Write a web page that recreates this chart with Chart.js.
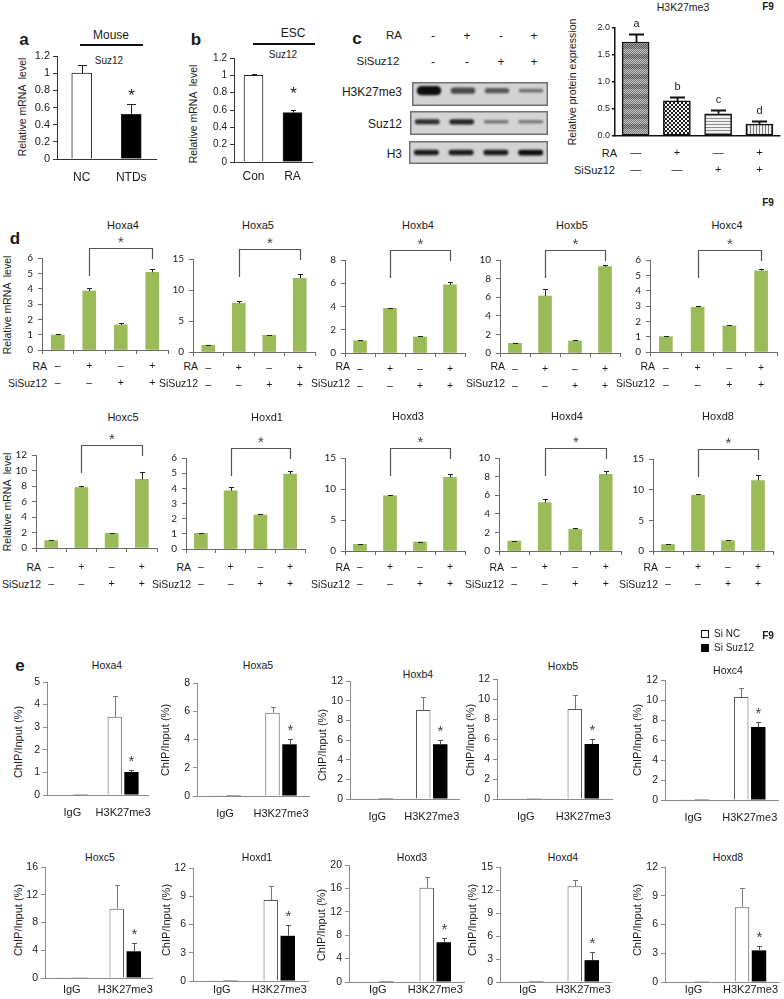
<!DOCTYPE html>
<html><head><meta charset="utf-8"><title>Suz12 / Hox figure</title>
<script src="https://cdn.jsdelivr.net/npm/chart.js@4.4.1/dist/chart.umd.min.js"></script>
<style>
html,body{margin:0;padding:0;background:#fff;}
body{width:784px;height:999px;position:relative;overflow:hidden;font-family:"Liberation Sans",Arial,sans-serif;color:#1a1a1a;}
canvas{position:absolute;}
.t{position:absolute;white-space:pre;line-height:1;}
.ln{position:absolute;background:#111;}
.sq{position:absolute;box-sizing:border-box;border:1px solid #111;}
</style></head><body>
<script>
// ================= DATA =================
// Panel a (mouse tissue)
const aCategories = ['NC', 'NTDs'];
const aSuz12 = [1.0, 0.52];
const aSuz12Err = [0.10, 0.115];
// Panel b (ESC)
const bCategories = ['Con', 'RA'];
const bSuz12 = [1.0, 0.57];
const bSuz12Err = [0.02, 0.03];
// Panel c western blot (relative band intensity)
const blotRA = ['-', '+', '-', '+'];
const blotSi = ['-', '-', '+', '+'];
const blotRows = ['H3K27me3', 'Suz12', 'H3'];
const bandH3K27me3 = [1.0, 0.62, 0.5, 0.33];
const bandSuz12 = [0.8, 0.85, 0.4, 0.35];
const bandH3 = [0.9, 0.9, 0.9, 1.0];
// Panel c quantification
const cLetters = ['a', 'b', 'c', 'd'];
const cRA = ['\u2014', '+', '\u2014', '+'];
const cSi = ['\u2014', '\u2014', '+', '+'];
const cH3K27me3 = [1.74, 0.65, 0.41, 0.22];
const cH3K27me3Err = [0.15, 0.08, 0.07, 0.06];
// Panel d (relative mRNA level)
const raSigns = ['\u2013', '+', '\u2013', '+'];
const siSigns = ['\u2013', '\u2013', '+', '+'];
const dGenes = ['Hoxa4', 'Hoxa5', 'Hoxb4', 'Hoxb5', 'Hoxc4', 'Hoxc5', 'Hoxd1', 'Hoxd3', 'Hoxd4', 'Hoxd8'];
const dHoxa4 = [0.98, 3.85, 1.63, 5.07], dHoxa4Err = [0.04, 0.17, 0.12, 0.2];
const dHoxa5 = [1.1, 7.85, 2.7, 11.9], dHoxa5Err = [0.1, 0.35, 0.12, 0.7];
const dHoxb4 = [1.05, 3.85, 1.38, 5.86], dHoxb4Err = [0.1, 0.06, 0.1, 0.25];
const dHoxb5 = [1.04, 6.13, 1.3, 9.28], dHoxb5Err = [0.05, 0.7, 0.08, 0.15];
const dHoxc4 = [1.0, 2.92, 1.7, 5.3], dHoxc4Err = [0.04, 0.07, 0.03, 0.1];
const dHoxc5 = [0.95, 7.8, 1.9, 8.85], dHoxc5Err = [0.1, 0.2, 0.07, 0.9];
const dHoxd1 = [1.03, 3.84, 2.24, 4.94], dHoxd1Err = [0.02, 0.22, 0.06, 0.22];
const dHoxd3 = [1.08, 8.9, 1.45, 11.9], dHoxd3Err = [0.1, 0.2, 0.08, 0.6];
const dHoxd4 = [1.07, 5.2, 2.33, 8.25], dHoxd4Err = [0.05, 0.35, 0.1, 0.35];
const dHoxd8 = [1.05, 9.1, 1.68, 11.5], dHoxd8Err = [0.1, 0.15, 0.05, 0.9];
const dAxisMax = [6, 15, 8, 10, 6, 12, 6, 15, 10, 15];
const dAxisStep = [1, 5, 2, 2, 1, 2, 1, 5, 2, 5];
// Panel e (ChIP/Input %), categories IgG / H3K27me3
const eCategories = ['IgG', 'H3K27me3'];
const eSeries = ['Si NC', 'Si Suz12'];
const eHoxa4NC = [0.02, 3.46], eHoxa4NCErr = [0, 0.92], eHoxa4Si = [0.01, 1.02], eHoxa4SiErr = [0, 0.08];
const eHoxa5NC = [0.02, 5.9], eHoxa5NCErr = [0, 0.43], eHoxa5Si = [0.01, 3.66], eHoxa5SiErr = [0, 0.38];
const eHoxb4NC = [0.08, 9.05], eHoxb4NCErr = [0, 1.35], eHoxb4Si = [0.02, 5.57], eHoxb4SiErr = [0, 0.43];
const eHoxb5NC = [0.08, 9.0], eHoxb5NCErr = [0, 1.4], eHoxb5Si = [0.03, 5.5], eHoxb5SiErr = [0, 0.5];
const eHoxc4NC = [0.03, 10.3], eHoxc4NCErr = [0, 0.85], eHoxc4Si = [0.02, 7.3], eHoxc4SiErr = [0, 0.48];
const eHoxc5NC = [0.1, 10.0], eHoxc5NCErr = [0, 3.4], eHoxc5Si = [0.05, 3.85], eHoxc5SiErr = [0, 1.2];
const eHoxd1NC = [0.03, 8.6], eHoxd1NCErr = [0, 1.5], eHoxd1Si = [0.02, 4.8], eHoxd1SiErr = [0, 1.1];
const eHoxd3NC = [0.03, 16.1], eHoxd3NCErr = [0, 1.8], eHoxd3Si = [0.02, 6.8], eHoxd3SiErr = [0, 0.7];
const eHoxd4NC = [0.03, 12.5], eHoxd4NCErr = [0, 0.75], eHoxd4Si = [0.02, 2.85], eHoxd4SiErr = [0, 1.05];
const eHoxd8NC = [0.05, 7.8], eHoxd8NCErr = [0, 2.05], eHoxd8Si = [0.03, 3.3], eHoxd8SiErr = [0, 0.5];
const eAxisMax = [5, 8, 12, 12, 12, 16, 12, 20, 15, 12];
const eAxisStep = [1, 2, 2, 2, 2, 4, 3, 4, 3, 3];

// ================= HELPERS =================
const FONT = '"Liberation Sans", Arial, sans-serif';
Chart.defaults.font.family = FONT;
Chart.defaults.color = '#1a1a1a';

function T(s, x, y, o = {}) {
  const d = document.createElement('div');
  d.className = 't'; d.textContent = s;
  d.style.fontSize = (o.size || 11) + 'px';
  if (o.bold) d.style.fontWeight = 'bold';
  if (o.font) d.style.fontFamily = o.font;
  if (o.color) d.style.color = o.color;
  const al = o.align || 'center';
  const tx = al === 'center' ? '-50%' : al === 'right' ? '-100%' : '0';
  d.style.left = x + 'px'; d.style.top = y + 'px';
  d.style.transform = 'translate(' + tx + ',-50%)' + (o.rot ? ' rotate(-90deg)' : '');
  document.body.appendChild(d);
}
function L(x, y, w, h) { const d = document.createElement('div'); d.className = 'ln';
  d.style.left = x + 'px'; d.style.top = y + 'px'; d.style.width = w + 'px'; d.style.height = h + 'px'; document.body.appendChild(d); }
function SQ(x, y, s, fill) { const d = document.createElement('div'); d.className = 'sq';
  d.style.left = x + 'px'; d.style.top = y + 'px'; d.style.width = s + 'px'; d.style.height = s + 'px'; d.style.background = fill; document.body.appendChild(d); }

function drawStar(ctx, x, cy, size, color) {
  ctx.save(); ctx.font = size + 'px ' + FONT; ctx.fillStyle = color || '#222';
  ctx.textAlign = 'center'; ctx.textBaseline = 'alphabetic';
  ctx.fillText('*', x, cy + 0.6 * size); ctx.restore();
}

const extras = {
  id: 'extras',
  beforeDatasetsDraw(chart, a, o) {
    const ctx = chart.ctx, ca = chart.chartArea;
    if (o.bg) {
      ctx.save(); ctx.fillStyle = o.bg; ctx.fillRect(ca.left, ca.top, ca.width, ca.height);
      ctx.strokeStyle = o.frame; ctx.lineWidth = 1.5;
      ctx.strokeRect(ca.left + 0.75, ca.top + 0.75, ca.width - 1.5, ca.height - 1.5); ctx.restore();
    }
    if (o.blur) { ctx.save(); ctx.filter = 'blur(' + o.blur + 'px)'; }
  },
  afterDatasetsDraw(chart, a, o) {
    const ctx = chart.ctx, ca = chart.chartArea;
    if (o.blur) ctx.restore();
    if (!o.errs) return;
    const ys = chart.scales.y;
    const tops = [];
    chart.data.datasets.forEach((ds, d) => {
      tops[d] = [];
      const meta = chart.getDatasetMeta(d);
      const arr = o.errs[d];
      ds.data.forEach((v, i) => {
        const e = arr ? (arr[i] || 0) : 0;
        const x = Math.round(meta.data[i].x) + 0.5;
        const y0 = ys.getPixelForValue(v), y1 = Math.round(ys.getPixelForValue(v + e)) + 0.5;
        tops[d][i] = { x, y: y1 };
        if (!e) return;
        ctx.save(); ctx.strokeStyle = (o.errColor && o.errColor[d]) || '#000'; ctx.lineWidth = o.errLW || 1;
        ctx.beginPath(); ctx.moveTo(x, y0); ctx.lineTo(x, y1);
        ctx.moveTo(x - o.cap / 2, y1); ctx.lineTo(x + o.cap / 2, y1); ctx.stroke(); ctx.restore();
      });
    });
    (o.stars || []).forEach(s => { const t = tops[s.d][s.i]; drawStar(ctx, t.x, t.y - s.off, o.starSize || 15, o.starColor); });
    if (o.letters) {
      o.letters.forEach((txt, i) => {
        const t = tops[0][i];
        ctx.save(); ctx.font = (o.letterSize || 10) + 'px ' + FONT; ctx.fillStyle = '#222';
        ctx.textAlign = 'center'; ctx.textBaseline = 'middle'; ctx.fillText(txt, t.x, t.y - o.letterOff); ctx.restore();
      });
    }
    if (o.bracket) {
      const b = o.bracket, x1 = tops[0][b.i1].x, x2 = tops[0][b.i2].x;
      const yt = Math.round(ca.top - b.up) + 0.5;
      ctx.save(); ctx.strokeStyle = '#555'; ctx.lineWidth = 1.2;
      ctx.beginPath(); ctx.moveTo(x1, ca.top + b.left); ctx.lineTo(x1, yt); ctx.lineTo(x2, yt); ctx.lineTo(x2, ca.top + b.right); ctx.stroke(); ctx.restore();
      drawStar(ctx, (x1 + x2) / 2, yt - 11, 15, '#444');
    }
  }
};

function chartBox(o) {
  const left = o.ax - o.yW, top = o.yTop - o.padT;
  const w = Math.round(o.xEnd - left + o.padR), h = Math.round(o.yBot - top + o.xH);
  const c = document.createElement('canvas');
  c.width = w; c.height = h;
  c.style.left = left + 'px'; c.style.top = top + 'px'; c.style.width = w + 'px'; c.style.height = h + 'px';
  document.body.appendChild(c);
  return c;
}

function barChart(o) {
  const c = chartBox(o);
  const ac = o.axisColor || '#111', aw = o.axisW || 1;
  return new Chart(c, {
    type: 'bar',
    data: { labels: o.labels, datasets: o.datasets },
    options: {
      responsive: false, animation: false, devicePixelRatio: 1, events: [],
      layout: { padding: { top: o.padT, right: o.padR, left: 0, bottom: 0 } },
      plugins: { legend: { display: false }, tooltip: { enabled: false }, title: { display: false }, extras: o.extras || {} },
      scales: {
        x: {
          type: 'category', offset: true, afterFit: s => { s.height = o.xH; },
          grid: { display: true, drawOnChartArea: false, drawTicks: !!o.xTick, tickLength: o.xTick || 0, color: ac, lineWidth: aw, offset: true },
          border: { display: true, color: ac, width: aw },
          ticks: { font: { size: o.xFont, family: FONT, lineHeight: o.xLH || 1.2 }, color: '#1a1a1a', padding: o.xPad, maxRotation: 0, autoSkip: false }
        },
        y: {
          min: 0, max: o.max, afterFit: s => { s.width = o.yW; },
          grid: { display: true, drawOnChartArea: false, drawTicks: true, tickLength: o.yTick || 4, color: ac, lineWidth: aw },
          border: { display: true, color: ac, width: aw },
          ticks: { stepSize: o.step, font: { size: o.yFont, family: o.yFamily || FONT }, color: '#1a1a1a', padding: o.yPad || 3,
                   callback: o.yFmt || (v => String(+v.toFixed(3))) }
        }
      }
    },
    plugins: [extras]
  });
}

function makePattern(kind) {
  const s = document.createElement('canvas');
  const g = s.getContext('2d');
  if (kind === 0) {
    s.width = 2; s.height = 10; g.fillStyle = '#a8a8a8'; g.fillRect(0, 0, 2, 10);
    g.fillStyle = '#505050'; for (let y = 0; y < 10; y += 2) { g.fillRect(0, y, 1, 1); g.fillRect(1, y + 1, 1, 1); }
    g.fillStyle = 'rgba(255,255,255,0.25)'; g.fillRect(0, 5, 2, 5);
  } else if (kind === 1) {
    s.width = 4; s.height = 4; g.fillStyle = '#f2f2f2'; g.fillRect(0, 0, 4, 4);
    g.fillStyle = '#1e1e1e'; g.fillRect(0, 0, 2, 2); g.fillRect(2, 2, 2, 2);
  } else if (kind === 2) {
    s.width = 4; s.height = 3; g.fillStyle = '#f0f0f0'; g.fillRect(0, 0, 4, 3);
    g.fillStyle = '#8c8c8c'; g.fillRect(0, 0, 4, 1);
  } else {
    s.width = 3; s.height = 4; g.fillStyle = '#f0f0f0'; g.fillRect(0, 0, 3, 4);
    g.fillStyle = '#7a7a7a'; g.fillRect(0, 0, 1, 4);
  }
  return document.createElement('canvas').getContext('2d').createPattern(s, 'repeat');
}

// ================= PANEL a =================
T('a', 24, 39, { size: 17, bold: 1 });
T('Mouse', 111, 35, { size: 12 });
L(80, 44, 63, 1.5);
T('Suz12', 109, 61, { size: 10 });
T('Relative mRNA  level', 22, 107, { size: 10.5, rot: 1 });
barChart({ ax: 57, yTop: 56, yBot: 159, xEnd: 156, yW: 32, padT: 12, padR: 8, xH: 30, max: 1.2, step: 0.2,
  labels: aCategories,
  datasets: [{ data: aSuz12, backgroundColor: ['#fff', '#000'], borderColor: '#222', borderWidth: 1, barThickness: 20 }],
  xFont: 12, xPad: 11.5, yFont: 11, yPad: 3, axisColor: '#333',
  extras: { errs: [aSuz12Err], errColor: ['#222'], cap: 9, stars: [{ d: 0, i: 1, off: 14 }], starSize: 17 } });

// ================= PANEL b =================
T('b', 196, 39, { size: 17, bold: 1 });
T('ESC', 293, 33, { size: 12 });
L(253, 43, 62, 1.5);
T('Suz12', 283, 55, { size: 10 });
T('Relative mRNA  level', 193, 114, { size: 10.5, rot: 1 });
barChart({ ax: 234, yTop: 58, yBot: 162, xEnd: 312, yW: 32, padT: 12, padR: 8, xH: 28, max: 1.2, step: 0.2,
  labels: bCategories,
  datasets: [{ data: bSuz12, backgroundColor: ['#fff', '#000'], borderColor: '#222', borderWidth: 1, barThickness: 19 }],
  xFont: 12, xPad: 7, yFont: 10, yPad: 3, axisColor: '#333',
  extras: { errs: [bSuz12Err], errColor: ['#222'], cap: 5, stars: [{ d: 0, i: 1, off: 22 }], starSize: 17 } });

// ================= PANEL c blot =================
T('c', 357, 38, { size: 17, bold: 1 });
T('RA', 394, 36, { size: 11.5 });
T('SiSuz12', 378, 62, { size: 11.5 });
const laneX = [433, 467, 501, 534];
blotRA.forEach((s, i) => T(s, laneX[i], 36, { size: 12 }));
blotSi.forEach((s, i) => T(s, laneX[i], 62, { size: 12 }));
const blotBoxes = [[412, 82, 136, 24], [410, 111, 138, 24], [409, 141, 139, 23]];
const blotRange = [[-1.28, 0.72], [-1.1, 0.9], [-1, 1]];
const blotThick = [0.34, 0.2, 0.2];
const blotLabelY = [92, 124, 154];
[bandH3K27me3, bandSuz12, bandH3].forEach((band, k) => {
  const B = blotBoxes[k];
  T(blotRows[k], 402, blotLabelY[k], { size: 12, align: 'right' });
  const c = document.createElement('canvas');
  c.width = B[2]; c.height = B[3];
  c.style.left = B[0] + 'px'; c.style.top = B[1] + 'px'; c.style.width = B[2] + 'px'; c.style.height = B[3] + 'px';
  document.body.appendChild(c);
  new Chart(c, {
    type: 'bar',
    data: { labels: blotRA, datasets: [{
      data: band.map(I => [-(0.05 + blotThick[k] * I), 0.05 + blotThick[k] * I]),
      backgroundColor: band.map(I => 'rgba(14,14,14,' + (0.25 + 0.75 * I).toFixed(2) + ')'),
      barPercentage: 0.72, categoryPercentage: 1, borderRadius: 5, borderSkipped: false }] },
    options: { responsive: false, animation: false, devicePixelRatio: 1, events: [],
      layout: { padding: 0 },
      plugins: { legend: { display: false }, tooltip: { enabled: false }, extras: { bg: '#d3d3d3', frame: '#707070', blur: 0.8 } },
      scales: { x: { display: false }, y: { display: false, min: blotRange[k][0], max: blotRange[k][1] } } },
    plugins: [extras]
  });
});

// ================= PANEL c quantification =================
T('H3K27me3', 683, 7, { size: 10.5 });
T('F9', 768, 7, { size: 10, bold: 1 });
T('Relative protein expression', 572, 82, { size: 10.5, rot: 1 });
T('RA', 617, 153, { size: 11, align: 'right' });
T('SiSuz12', 615, 170, { size: 11, align: 'right' });
const cPatterns = [makePattern(0), makePattern(1), makePattern(2), makePattern(3)];
barChart({ ax: 615, yTop: 28, yBot: 136, xEnd: 780, yW: 24, padT: 24, padR: 3, xH: 46, max: 2, step: 0.5,
  labels: cRA.map((r, i) => [r, cSi[i]]),
  datasets: [{ data: cH3K27me3, backgroundColor: cPatterns, borderColor: '#111', borderWidth: 1.5, barThickness: 27, borderSkipped: false }],
  xFont: 11, xLH: 17 / 11, xPad: 8.5, yFont: 9, yPad: 2, yTick: 3, axisW: 1.5, axisColor: '#111',
  yFmt: v => v.toFixed(1),
  extras: { errs: [cH3K27me3Err], errColor: ['#111'], cap: 15, errLW: 1.8, letters: cLetters, letterOff: 11, letterSize: 11 } });

// ================= PANEL d =================
T('d', 15, 238, { size: 17, bold: 1 });
T('F9', 768, 203, { size: 10, bold: 1 });
T('Relative mRNA  level', 7, 305, { size: 10.5, rot: 1 });
T('Relative mRNA  level', 7, 502, { size: 10.5, rot: 1 });
const dSeries = [dHoxa4, dHoxa5, dHoxb4, dHoxb5, dHoxc4, dHoxc5, dHoxd1, dHoxd3, dHoxd4, dHoxd8];
const dSeriesErr = [dHoxa4Err, dHoxa5Err, dHoxb4Err, dHoxb5Err, dHoxc4Err, dHoxc5Err, dHoxd1Err, dHoxd3Err, dHoxd4Err, dHoxd8Err];
const dLayout = [[42, 258, 350, 168], [193, 259, 352, 315], [345, 260, 353, 465], [500, 260, 353, 620], [650, 260, 352, 777],
                 [36, 455, 548, 157], [186, 458, 549, 305], [345, 458, 551, 465], [499, 458, 551, 621], [653, 459, 551, 773]];
const dTitlePos = [[123, 225], [258, 225], [418, 225], [572, 225], [727, 225],
                   [123, 417], [267, 417], [408, 416], [567, 416], [718, 416]];
dGenes.forEach((g, k) => {
  const P = dLayout[k];
  const row1 = k < 5;
  T(g, dTitlePos[k][0], dTitlePos[k][1], { size: 11 });
  const raY = row1 ? 366 : 567;
  T('RA', P[0] + 5, raY, { size: 10.5, align: 'right' });
  T('SiSuz12', P[0] + 5, raY + 17, { size: 10.5, align: 'right' });
  barChart({ ax: P[0], yTop: P[1], yBot: P[2], xEnd: P[3], yW: 34, padT: 36, padR: 6, xH: 48,
    max: dAxisMax[k], step: dAxisStep[k],
    labels: raSigns.map((r, i) => [r, siSigns[i]]),
    datasets: [{ data: dSeries[k], backgroundColor: '#9BBB59', barThickness: 13 }],
    xTick: 4, xFont: 10.5, xLH: 17 / 10.5, xPad: row1 ? 3.5 : (raY - P[2] - 4 - 8.5),
    yFont: 10, yFamily: 'Lato, ' + FONT, yPad: 5, axisColor: '#6b6b6b',
    extras: { errs: [dSeriesErr[k]], errColor: ['#222'], cap: 5, bracket: { i1: 1, i2: 3, up: 10, left: 18, right: 1 } } });
});

// ================= PANEL e =================
T('e', 20, 665, { size: 17, bold: 1 });
T('F9', 768, 636, { size: 10, bold: 1 });
SQ(701, 630, 8, '#fff'); T(eSeries[0], 714, 634, { size: 10, align: 'left' });
SQ(701, 644, 8, '#000'); T(eSeries[1], 714, 648, { size: 10, align: 'left' });
const eNC = [eHoxa4NC, eHoxa5NC, eHoxb4NC, eHoxb5NC, eHoxc4NC, eHoxc5NC, eHoxd1NC, eHoxd3NC, eHoxd4NC, eHoxd8NC];
const eNCErr = [eHoxa4NCErr, eHoxa5NCErr, eHoxb4NCErr, eHoxb5NCErr, eHoxc4NCErr, eHoxc5NCErr, eHoxd1NCErr, eHoxd3NCErr, eHoxd4NCErr, eHoxd8NCErr];
const eSi = [eHoxa4Si, eHoxa5Si, eHoxb4Si, eHoxb5Si, eHoxc4Si, eHoxc5Si, eHoxd1Si, eHoxd3Si, eHoxd4Si, eHoxd8Si];
const eSiErr = [eHoxa4SiErr, eHoxa5SiErr, eHoxb4SiErr, eHoxb5SiErr, eHoxc4SiErr, eHoxc5SiErr, eHoxd1SiErr, eHoxd3SiErr, eHoxd4SiErr, eHoxd8SiErr];
const eLayout = [[47, 682, 795, 150], [197, 683, 796, 309], [350, 681, 799, 459], [497, 679, 799, 612], [665, 680, 800, 778],
                 [45, 867, 978, 152], [193, 868, 981, 308], [349, 865, 982, 464], [500, 867, 982, 611], [665, 867, 982, 779]];
const eTitlePos = [[107, 665], [258, 665], [418, 674], [563, 666], [728, 670],
                   [100, 857], [257, 857], [412, 857], [563, 857], [728, 857]];
const eYTitlePos = [[18, 742], [165, 740], [322, 745], [470, 740], [637, 740],
                    [18, 920], [166, 920], [321, 925], [472, 920], [637, 920]];
dGenes.forEach((g, k) => {
  const P = eLayout[k];
  T(g, eTitlePos[k][0], eTitlePos[k][1], { size: 10.5 });
  T('ChIP/Input (%)', eYTitlePos[k][0], eYTitlePos[k][1], { size: 11, rot: 1 });
  const catW = (P[3] - P[0]) / 2;
  const cp = 34 / catW;
  const labelCenter = k < 5 ? P[2] + 18 : 990;
  barChart({ ax: P[0], yTop: P[1], yBot: P[2], xEnd: P[3], yW: 32, padT: 14, padR: 16, xH: 26,
    max: eAxisMax[k], step: eAxisStep[k],
    labels: eCategories,
    datasets: [
      { data: eNC[k], backgroundColor: '#fff', borderColor: '#555', borderWidth: 1, barPercentage: 0.85, categoryPercentage: cp },
      { data: eSi[k], backgroundColor: '#000', borderColor: '#000', borderWidth: 0, barPercentage: 0.85, categoryPercentage: cp }],
    xFont: 11, xPad: labelCenter - P[2] - 6.6, yFont: 10.5, yPad: 3, axisColor: '#8a8a8a',
    extras: { errs: [eNCErr[k], eSiErr[k]], errColor: ['#777', '#555'], cap: 5, stars: [{ d: 1, i: 1, off: 14 }], starSize: 15, starColor: '#444' } });
});
</script>
</body></html>
